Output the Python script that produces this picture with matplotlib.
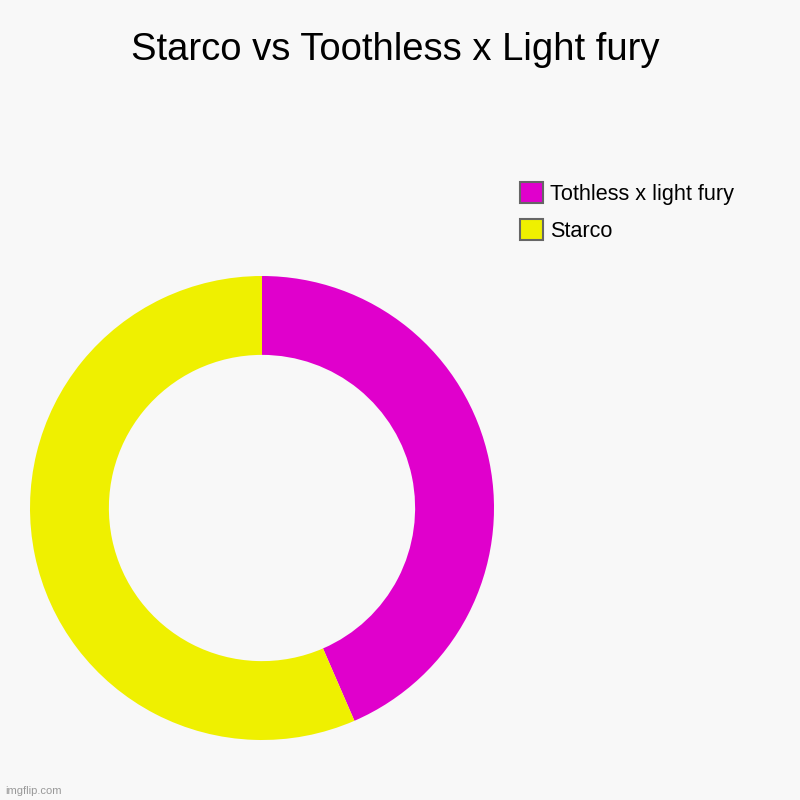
import matplotlib.pyplot as plt
from matplotlib.patches import Patch

plt.rcParams['font.family'] = ['Liberation Sans', 'DejaVu Sans']

# donut data
labels = ['Tothless x light fury', 'Starco']
values = [10, 13]
colors = ['#e000cc', '#eff000']
bg = '#f8f8f8'

fig = plt.figure(figsize=(8, 8), dpi=100, facecolor=bg)
ax = fig.add_axes([0.0375, 0.075, 0.58, 0.58])
ax.set_facecolor(bg)

ax.pie(values, colors=colors, startangle=90, counterclock=False,
       radius=1.0, wedgeprops=dict(width=0.34, edgecolor='none'))
ax.set_xlim(-1, 1)
ax.set_ylim(-1, 1)
ax.set_aspect('equal')
ax.axis('off')

fig.text(0.494, 0.937, 'Starco vs Toothless x Light fury', ha='center', va='center',
         fontsize=27.5)

handles = [Patch(facecolor=c, edgecolor='#666666', linewidth=1.5) for c in colors]
fig.legend(handles, labels, loc='upper left', bbox_to_anchor=(0.65, 0.772),
           frameon=False, fontsize=15.6, handlelength=1.08, handleheight=1.08,
           handletextpad=0.3, labelspacing=0.65, borderaxespad=0, borderpad=0)

fig.text(0.006, 0.011, 'imgflip.com', fontsize=8, color='#999999', ha='left', va='center')

fig.savefig('out.png', dpi=100, facecolor=bg)
